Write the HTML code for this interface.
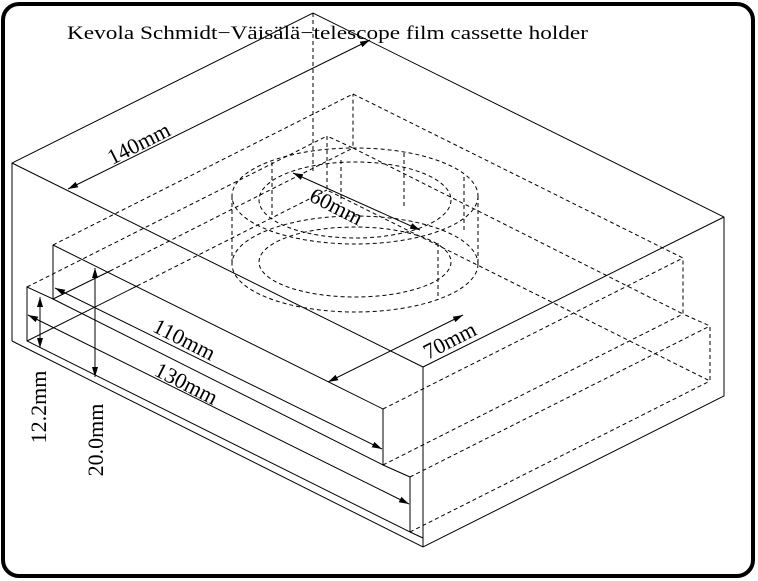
<!DOCTYPE html>
<html><head><meta charset="utf-8"><style>
html,body{margin:0;padding:0;background:#fff;width:758px;height:581px;overflow:hidden}
svg{display:block}
text{font-family:"Liberation Serif",serif;fill:#000}
</style></head><body>
<svg width="758" height="581" viewBox="0 0 758 581" xmlns="http://www.w3.org/2000/svg">
<defs>
<marker id="ah" markerWidth="10" markerHeight="6" refX="10" refY="3" orient="auto" markerUnits="userSpaceOnUse">
<path d="M0,0 L10,3 L0,6 Z" fill="#000"/>
</marker>
<marker id="at" markerWidth="10" markerHeight="6" refX="0" refY="3" orient="auto" markerUnits="userSpaceOnUse">
<path d="M10,0 L0,3 L10,6 Z" fill="#000"/>
</marker>
</defs>
<rect x="3" y="4" width="750" height="572" rx="16" ry="16" fill="none" stroke="#000" stroke-width="4"/>
<text x="67" y="39" font-size="19" textLength="521" lengthAdjust="spacingAndGlyphs">Kevola Schmidt−Väisälä−telescope film cassette holder</text>

<g fill="none" stroke="#000" stroke-width="1">
<polyline points="12,341 12,163 313,13 724,217 724,396 423,547 12,341"/>
<line x1="12" y1="163" x2="423" y2="367"/>
<line x1="423" y1="367" x2="724" y2="217"/>
<line x1="423" y1="367" x2="423" y2="547"/>
<polyline points="53,245 383,409 383,465 410,477 410,532 27,341 27,287 53,299 53,245"/>
<line x1="410" y1="532" x2="423" y2="538"/>
<line x1="53" y1="299" x2="383" y2="465"/>
<line x1="53" y1="299" x2="110" y2="271"/>
<line x1="27" y1="341" x2="137" y2="286"/>
</g>

<g fill="none" stroke="#000" stroke-width="1" stroke-dasharray="4,3">
<line x1="313" y1="13" x2="313" y2="172"/>
<line x1="53" y1="245" x2="353" y2="94"/>
<line x1="27" y1="287" x2="327" y2="136"/>
<line x1="110" y1="271" x2="353" y2="148"/>
<line x1="137" y1="286" x2="327" y2="190"/>
<line x1="383" y1="409" x2="683" y2="258"/>
<line x1="383" y1="465" x2="683" y2="314"/>
<line x1="410" y1="477" x2="710" y2="326"/>
<line x1="410" y1="532" x2="710" y2="381"/>
<polyline points="353,94 683,258 683,314 710,326 710,381 327,190 327,136 353,148 353,94"/>
<line x1="353" y1="148" x2="683" y2="314"/>
<ellipse cx="355" cy="196" rx="123" ry="48"/>
<ellipse cx="355" cy="264" rx="123" ry="48"/>
<ellipse cx="355" cy="200" rx="96" ry="38"/>
<ellipse cx="355" cy="262" rx="96" ry="35"/>
<line x1="232" y1="196" x2="232" y2="266"/>
<line x1="478" y1="196" x2="478" y2="266"/>
<line x1="272" y1="162" x2="272" y2="219"/>
<line x1="341" y1="160" x2="341" y2="204"/>
<line x1="404" y1="153" x2="404" y2="209"/>
<line x1="464" y1="177" x2="464" y2="230"/>
<line x1="438" y1="243" x2="438" y2="300"/>
</g>

<g fill="none" stroke="#000" stroke-width="1">
<line x1="68" y1="189" x2="370" y2="40" marker-start="url(#at)" marker-end="url(#ah)"/>
<line x1="293" y1="173" x2="420" y2="230" marker-start="url(#at)" marker-end="url(#ah)"/>
<line x1="328" y1="382" x2="463" y2="315" marker-start="url(#at)" marker-end="url(#ah)"/>
<line x1="55" y1="288" x2="382" y2="449" marker-start="url(#at)" marker-end="url(#ah)"/>
<line x1="28" y1="315" x2="409" y2="504" marker-start="url(#at)" marker-end="url(#ah)"/>
<line x1="40" y1="297" x2="40" y2="348" marker-start="url(#at)" marker-end="url(#ah)"/>
<line x1="95" y1="268" x2="95" y2="377" marker-start="url(#at)" marker-end="url(#ah)"/>
</g>

<g font-size="22">
<text transform="translate(142,150) rotate(-27)" text-anchor="middle">140mm</text>
<text transform="translate(333,213) rotate(27)" text-anchor="middle">60mm</text>
<text transform="translate(453,347) rotate(-27)" text-anchor="middle">70mm</text>
<text transform="translate(181,346) rotate(27)" text-anchor="middle">110mm</text>
<text transform="translate(183,390) rotate(27)" text-anchor="middle">130mm</text>
<text transform="translate(46,407) rotate(-90)" text-anchor="middle">12.2mm</text>
<text transform="translate(103,440) rotate(-90)" text-anchor="middle">20.0mm</text>
</g>
</svg>
</body></html>
